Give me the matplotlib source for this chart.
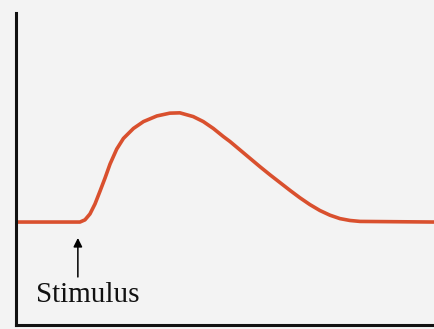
import matplotlib
matplotlib.use("Agg")
import matplotlib.pyplot as plt

# Time (arbitrary units, 0-100) and response (arbitrary units, 0-100)
time = [0, 12.9, 15.3, 16.5, 17.7, 18.9, 20.1, 21.3, 22.5, 24.1, 25.7, 28.1, 30.5, 33.7,
        36.8, 39.2, 42.4, 44.8, 47.2, 49.6, 51.2, 53.6, 56.0, 58.4, 60.8, 63.2,
        65.6, 67.9, 70.3, 72.7, 75.1, 77.5, 79.9, 82.3, 100]
response = [33.0, 33.0, 33.0, 33.7, 35.6, 38.8, 42.9, 47.1, 51.6, 56.4, 59.8, 63.0, 65.2, 67.0,
            67.9, 68.0, 66.8, 65.2, 63.0, 60.4, 58.8, 56.1, 53.4, 50.7, 48.1, 45.6,
            43.1, 40.8, 38.6, 36.7, 35.2, 34.1, 33.5, 33.2, 33.0]

stimulus_time = 14.8
stimulus_label = "Stimulus"

fig = plt.figure(figsize=(4.34, 3.29), dpi=100)
fig.patch.set_facecolor("#f3f3f3")
ax = fig.add_axes([16 / 434, 4 / 329, 418 / 434, 312 / 329])
ax.set_facecolor("#f3f3f3")

ax.plot(time, response, color="#d9502e", lw=2.6, solid_capstyle="butt",
        solid_joinstyle="round")

ax.annotate("", xy=(stimulus_time, 27.9), xytext=(stimulus_time, 15.4),
            arrowprops=dict(arrowstyle="-|>", color="black", lw=1.1,
                            mutation_scale=13, shrinkA=0, shrinkB=0))
ax.text(17.1, 7.4, stimulus_label, ha="center", va="baseline",
        fontsize=21, family="Liberation Serif", color="#111111")

ax.set_xlim(0, 100)
ax.set_ylim(0, 100)
ax.set_xticks([])
ax.set_yticks([])
for side in ("top", "right"):
    ax.spines[side].set_visible(False)
for side in ("left", "bottom"):
    ax.spines[side].set_linewidth(2.2)
    ax.spines[side].set_color("#111111")

fig.savefig("out.png", dpi=100, facecolor=fig.get_facecolor())
